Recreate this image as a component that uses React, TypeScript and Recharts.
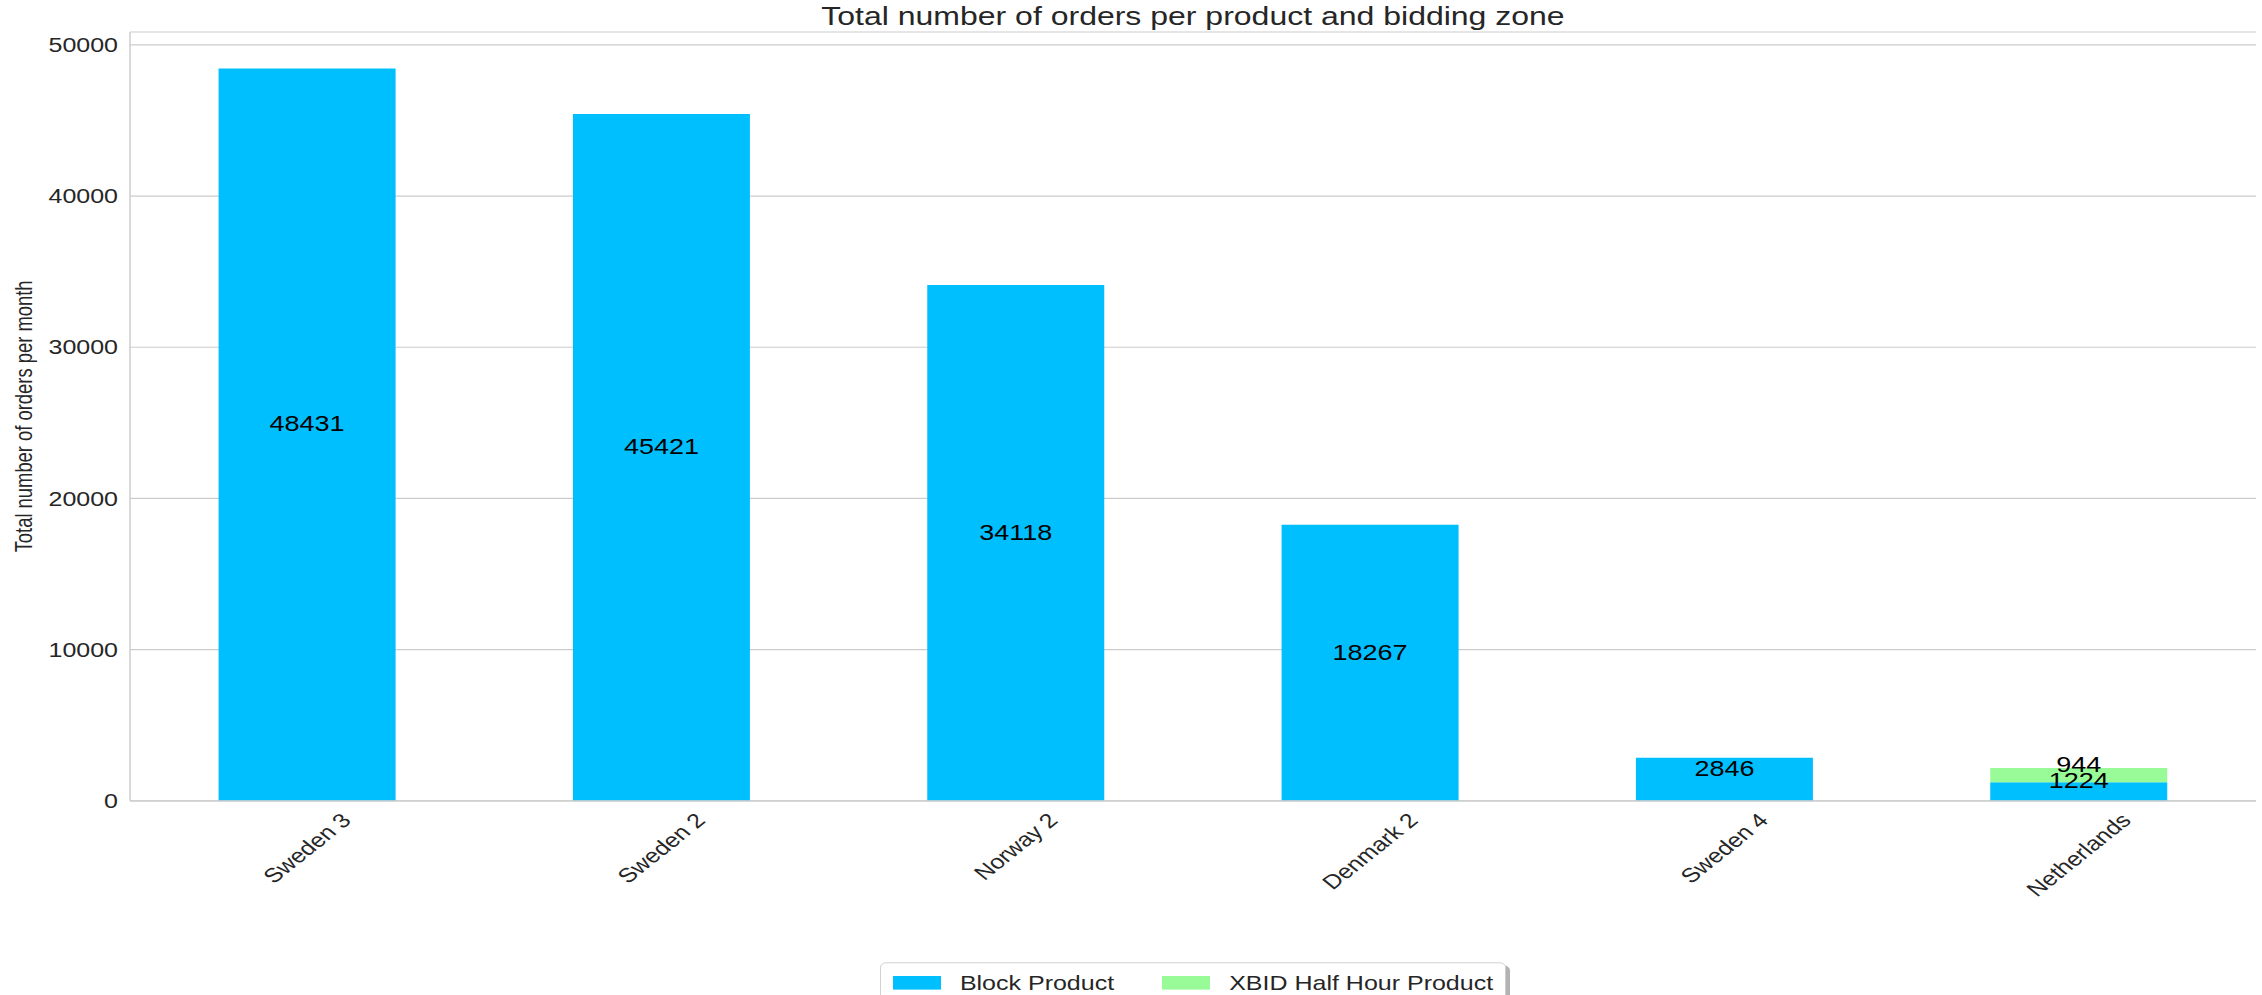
import React from 'react';
import { BarChart, Bar, XAxis, YAxis, CartesianGrid, Legend, LabelList } from 'recharts';

const categories = ['Sweden 3', 'Sweden 2', 'Norway 2', 'Denmark 2', 'Sweden 4', 'Netherlands'];
const blockProduct = [48431, 45421, 34118, 18267, 2846, 1224];
const xbidHalfHour = [0, 0, 0, 0, 0, 944];
const yTicks = [0, 10000, 20000, 30000, 40000, 50000];
const seriesNames = ['Block Product', 'XBID Half Hour Product'];

const data = categories.map((name, i) => ({
  name,
  block: blockProduct[i],
  xbid: xbidHalfHour[i],
}));

// the reference picture is squeezed vertically, so draw tall and scale down
const SQUASH = 0.8;
const W = 2262;
const H = Math.round(995 / SQUASH);
const FONT = '"Liberation Sans", Arial, sans-serif';
const TEXT = '#262626';
const GRID = '#cccccc';
const yMax = Math.max(...blockProduct.map((v, i) => v + xbidHalfHour[i])) * 1.05;

let ctx: CanvasRenderingContext2D | null = null;
const measure = (t: string, size: number) => {
  if (!ctx) ctx = document.createElement('canvas').getContext('2d');
  if (!ctx) return t.length * size * 0.55;
  ctx.font = `${size}px "Liberation Sans"`;
  return ctx.measureText(t).width;
};

const XTick = (props: any) => {
  const { x, y, payload } = props;
  const size = 25;
  const w = measure(String(payload.value), size);
  const half = ((w + size * 1.15) * Math.SQRT1_2) / 2;
  return (
    <text
      transform={`translate(${x},${y + 10 + half}) rotate(-45)`}
      textAnchor="middle"
      dominantBaseline="central"
      fontSize={size}
      fontFamily={FONT}
      fill={TEXT}
    >
      {payload.value}
    </text>
  );
};

const renderValue = (props: any) => {
  const { x, y, width, height, value } = props;
  if (!value) return null;
  return (
    <text
      x={x + width / 2}
      y={y + height / 2 - 4}
      textAnchor="middle"
      fontSize={27}
      fontFamily={FONT}
      fill="#000"
    >
      {value}
    </text>
  );
};

const renderLegend = (props: any) => {
  const { payload } = props;
  return (
    <div style={{ display: 'flex', justifyContent: 'center' }}>
      <div
        style={{
          display: 'inline-flex',
          alignItems: 'center',
          border: `1px solid ${GRID}`,
          borderRadius: 6,
          background: '#fff',
          padding: '9px 12px',
          boxShadow: '4px 4px 0 rgba(0,0,0,0.3)',
          fontFamily: FONT,
        }}
      >
        {payload.map((p: any, i: number) => (
          <span key={p.value} style={{ display: 'inline-flex', alignItems: 'center', marginLeft: i ? 48 : 0 }}>
            <span style={{ width: 48, height: 17, background: p.color, marginRight: 19 }} />
            <span style={{ fontSize: 25, color: TEXT, lineHeight: '30px' }}>{p.value}</span>
          </span>
        ))}
      </div>
    </div>
  );
};

const YLabel = (props: any) => {
  const { viewBox } = props;
  const cy = viewBox.y + viewBox.height / 2;
  return (
    <text
      transform={`translate(32,${cy}) rotate(-90)`}
      textAnchor="middle"
      fontSize={23}
      fontFamily={FONT}
      fill={TEXT}
    >
      Total number of orders per month
    </text>
  );
};

export default function App() {
  const top = 40;
  const plotBottom = Math.round(801 / SQUASH);
  return (
    <div style={{ position: 'absolute', left: 0, top: 0, width: W, height: 995, overflow: 'hidden', background: '#fff' }}>
      <div
        style={{
          position: 'absolute',
          left: 0,
          top: 0,
          width: W,
          height: H,
          transform: `scaleY(${SQUASH})`,
          transformOrigin: 'top left',
        }}
      >
        <BarChart
          width={W}
          height={H}
          data={data}
          margin={{ top, right: 6, left: 0, bottom: 0 }}
          barCategoryGap="25%"
        >
          <CartesianGrid vertical={false} stroke={GRID} strokeWidth={1.5} />
          <XAxis
            dataKey="name"
            height={H - plotBottom}
            tick={<XTick />}
            tickLine={false}
            tickSize={0}
            tickMargin={0}
            interval={0}
            axisLine={{ stroke: GRID, strokeWidth: 1.5 }}
          />
          <XAxis
            xAxisId="top"
            dataKey="name"
            orientation="top"
            height={0}
            tick={false}
            tickLine={false}
            axisLine={{ stroke: GRID, strokeWidth: 1.5 }}
          />
          <YAxis
            width={130}
            domain={[0, yMax]}
            ticks={yTicks}
            tickLine={false}
            tickSize={0}
            tickMargin={12}
            axisLine={{ stroke: GRID, strokeWidth: 1.5 }}
            tick={{ fill: TEXT, fontSize: 25, fontFamily: FONT }}
            label={{ content: <YLabel /> }}
          />
          <YAxis
            yAxisId="right"
            orientation="right"
            width={0}
            tick={false}
            tickLine={false}
            axisLine={{ stroke: GRID, strokeWidth: 1.5 }}
          />
          <Legend
            layout="horizontal"
            verticalAlign="middle"
            align="center"
            content={renderLegend}
            wrapperStyle={{ left: 130, top: 1203, width: 2126, height: 60 }}
          />
          <Bar dataKey="block" name={seriesNames[0]} stackId="a" fill="#00BFFF" isAnimationActive={false}>
            <LabelList dataKey="block" content={renderValue} />
          </Bar>
          <Bar dataKey="xbid" name={seriesNames[1]} stackId="a" fill="#98FB98" isAnimationActive={false}>
            <LabelList dataKey="xbid" content={renderValue} />
          </Bar>
        </BarChart>
        <svg width={W} height={60} style={{ position: 'absolute', left: 0, top: 0, pointerEvents: 'none' }}>
          <text x={1193} y={31} textAnchor="middle" fontSize={32} fontFamily={FONT} fill={TEXT}>
            Total number of orders per product and bidding zone
          </text>
        </svg>
      </div>
    </div>
  );
}
